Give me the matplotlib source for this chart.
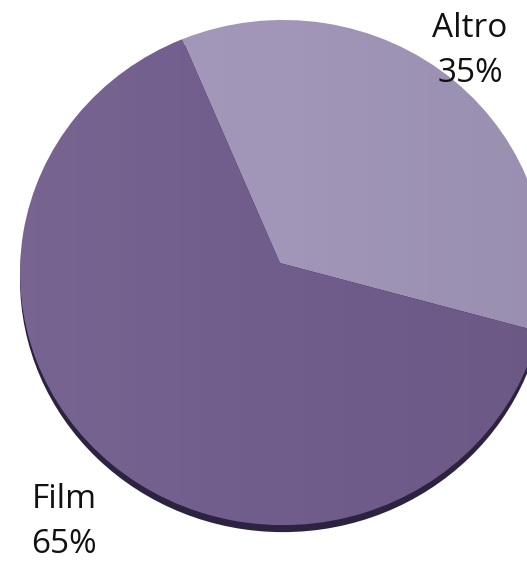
import matplotlib
matplotlib.use('Agg')
import matplotlib.pyplot as plt
import numpy as np
from matplotlib.patches import Ellipse, PathPatch
from matplotlib.path import Path

# ---- data ----
categories = ['Altro', 'Film']
values = [35, 65]
colors = ['#A196B8', '#715D8C']

W, H = 527, 561
fig = plt.figure(figsize=(W / 100, H / 100), dpi=100)
ax = fig.add_axes([0, 0, 1, 1])

wedges, _ = ax.pie(values, colors=colors, startangle=112.5, counterclock=False,
                   radius=1, center=(0, 0), wedgeprops=dict(linewidth=0))

# perspective: move the apex slightly up (3-D tilted look)
apex = (-0.0114, 0.0376)
for w in wedges:
    p = w.get_path()
    verts = p.vertices.copy()
    mask = np.hypot(verts[:, 0], verts[:, 1]) < 1e-6
    verts[mask] = apex
    pp = PathPatch(Path(verts, p.codes), facecolor=w.get_facecolor(), lw=0, zorder=2)
    ax.add_patch(pp)
    w.set_visible(False)

# shadow under the disc
ax.add_patch(Ellipse((0, -7 / 252.5), 2, 2, facecolor='#2D2340', lw=0, zorder=1))

# subtle horizontal shading
n = 512
t = np.linspace(0, 1, n)
grad = np.zeros((2, n, 4))
grad[..., :3] = np.where(t < 0.5, 1.0, 0.0)[None, :, None]
grad[..., 3] = (0.05 * np.abs(1 - 2 * t))[None, :]
im = ax.imshow(grad, extent=(-1, 1, -1, 1), aspect='auto', zorder=3,
               interpolation='bilinear')
clip = Ellipse((0, 0), 2, 2, transform=ax.transData)
im.set_clip_path(clip)

ax.set_aspect('auto')
ax.set_xlim(-1.076, 0.928)
ax.set_ylim(-1.142, 1.079)
ax.axis('off')

# labels
label_pos = {'Altro': (470, 37, 82), 'Film': (64, 508, 553)}
for cat, val in zip(categories, values):
    x, y1, y2 = label_pos[cat]
    fig.text(x / W, 1 - y1 / H, cat, ha='center', va='baseline', fontsize=24,
             family='Open Sans', color='#111111')
    fig.text(x / W, 1 - y2 / H, f'{val}%', ha='center', va='baseline', fontsize=24,
             family='Open Sans', color='#111111')

fig.savefig('out.png', dpi=100)
